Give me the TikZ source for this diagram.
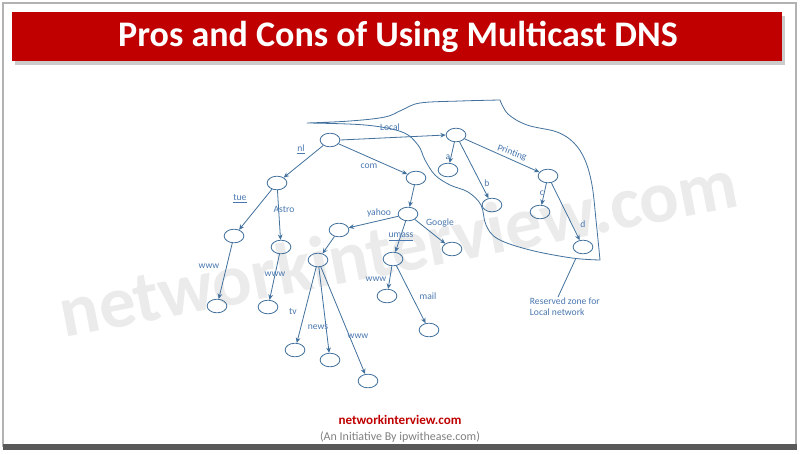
\documentclass[tikz,border=0pt]{standalone}
\usepackage{fontspec}
\setmainfont{Carlito}
\usetikzlibrary{arrows.meta, shapes.geometric}
\definecolor{netline}{HTML}{41719C}
\definecolor{nettext}{HTML}{4A78B0}
\definecolor{banner}{HTML}{C00000}

\begin{document}
\begin{tikzpicture}
    [x=0.75pt, y=-0.75pt,
    Host/.style={ellipse, draw=netline, line width=0.6pt, minimum width=14.8pt, minimum height=10.2pt, inner sep=0pt},
    Link/.style={-{Stealth[length=4pt, width=3.5pt]}, draw=netline, line width=0.6pt},
    Tag/.style={text=nettext, font=\fontsize{7.2}{8}\selectfont, inner sep=0.5pt}]
    \useasboundingbox (0,0) rectangle (800,454);
    % frame and title banner
    \fill[white] (0,0) rectangle (800,454);
    \draw[gray!60, line width=1.2pt] (3,3) rectangle (796,446);
    \fill[gray!70!black] (3,444) rectangle (797,450);
    \fill[black!20] (15,16) rectangle (785,65);
    \fill[banner] (12,12) rectangle (782,61);
    \node[text=white, font=\bfseries\fontsize{27}{30}\selectfont] (title) at (398,37) {Pros and Cons of Using Multicast DNS};
    % watermark
    \node[text=black!8, font=\bfseries\fontsize{55}{55}\selectfont, rotate=11] (mark) at (398,247) {networkinterview.com};
    % reserved zone
    \draw[netline, line width=0.6pt]
        plot[smooth, tension=0.6] coordinates {(307,123) (350,121) (385,117) (402,110) (420,103) (460,101) (500,100)}
        -- plot[smooth, tension=0.6] coordinates {(500,100) (508,114) (527,125) (557,132) (574,143) (585,160) (592,185) (596,220) (600,260)}
        -- plot[smooth, tension=0.6] coordinates {(600,260) (572,258) (530,250) (498,239) (486,225) (481,205) (468,192) (450,185) (435,175) (425,160) (418,145) (402,132) (365,125) (307,123)};
    % hosts
    \node[Host] (root) at (330,140){};
    \node[Host] (nlN) at (277,183){};
    \node[Host] (comN) at (416,178){};
    \node[Host] (locN) at (456,135){};
    \node[Host] (tueN) at (234,236){};
    \node[Host] (astroN) at (281,247){};
    \node[Host] (yahooN) at (408,214){};
    \node[Host] (yleftN) at (339,230){};
    \node[Host] (googleN) at (452,249){};
    \node[Host] (umassN) at (393,259){};
    \node[Host] (tvpN) at (318,260){};
    \node[Host] (wwwA) at (217,306){};
    \node[Host] (wwwB) at (268,307){};
    \node[Host] (umwww) at (387,296){};
    \node[Host] (mailN) at (429,330){};
    \node[Host] (tvN) at (295,350){};
    \node[Host] (newsN) at (330,360){};
    \node[Host] (wwwC) at (368,381){};
    \node[Host] (aN) at (448,170){};
    \node[Host] (bN) at (492,205){};
    \node[Host] (prtN) at (548,176){};
    \node[Host] (cN) at (540,212){};
    \node[Host] (dN) at (583,247){};
    % links
    \draw[Link] (root) -- (nlN);
    \draw[Link] (root) -- (comN);
    \draw[Link] (root.east) -- (locN.west);
    \draw[Link] (nlN) -- (tueN);
    \draw[Link] (nlN) -- (astroN);
    \draw[Link] (comN) -- (yahooN);
    \draw[Link] (yahooN) -- (yleftN);
    \draw[Link] (yahooN) -- (umassN);
    \draw[Link] (yahooN) -- (googleN);
    \draw[Link] (yleftN) -- (tvpN);
    \draw[Link] (tueN) -- (wwwA);
    \draw[Link] (astroN) -- (wwwB);
    \draw[Link] (tvpN) -- (tvN);
    \draw[Link] (tvpN) -- (newsN);
    \draw[Link] (tvpN) -- (wwwC);
    \draw[Link] (umassN) -- (umwww);
    \draw[Link] (umassN) -- (mailN);
    \draw[Link] (locN) -- (aN);
    \draw[Link] (locN) -- (bN);
    \draw[Link] (locN) -- (prtN);
    \draw[Link] (prtN) -- (cN);
    \draw[Link] (prtN) -- (dN);
    % labels
    \node[Tag] (tLocal) at (390,127) {Local};
    \node[Tag] (tNl) at (301,149) {\underline{nl}};
    \node[Tag] (tCom) at (369,166) {com};
    \node[Tag] (tTue) at (240,199) {\underline{tue}};
    \node[Tag] (tAstro) at (284,209) {Astro};
    \node[Tag] (tYahoo) at (379,213) {yahoo};
    \node[Tag] (tUmass) at (401,237) {\underline{umass}};
    \node[Tag] (tGoogle) at (440,223) {Google};
    \node[Tag] (tA) at (448,157) {a};
    \node[Tag] (tB) at (487,183) {b};
    \node[Tag, rotate=-20] (tPrinting) at (512,153) {Printing};
    \node[Tag] (tC) at (542,193) {c};
    \node[Tag] (tD) at (583,224) {d};
    \node[Tag] (tWwwA) at (209,266) {www};
    \node[Tag] (tWwwB) at (275,274) {www};
    \node[Tag] (tTv) at (293,311) {tv};
    \node[Tag] (tNews) at (318,327) {news};
    \node[Tag] (tWwwC) at (358,336) {www};
    \node[Tag] (tUmwww) at (376,279) {www};
    \node[Tag] (tMail) at (428,296) {mail};
    \node[Tag, anchor=north west, align=left] (zone) at (529,297) {Reserved zone for\\Local network};
    \coordinate (zoneTip) at (576,258);
    \draw[netline, line width=0.6pt] (zoneTip) -- (zone.north west -| 558,297);
    % footer
    \node[text=banner, font=\bfseries\fontsize{9.8}{11}\selectfont] (site) at (400,420) {networkinterview.com};
    \node[text=gray, font=\fontsize{9}{10}\selectfont] (sub) at (400,437) {(An Initiative By ipwithease.com)};
\end{tikzpicture}
\end{document}
